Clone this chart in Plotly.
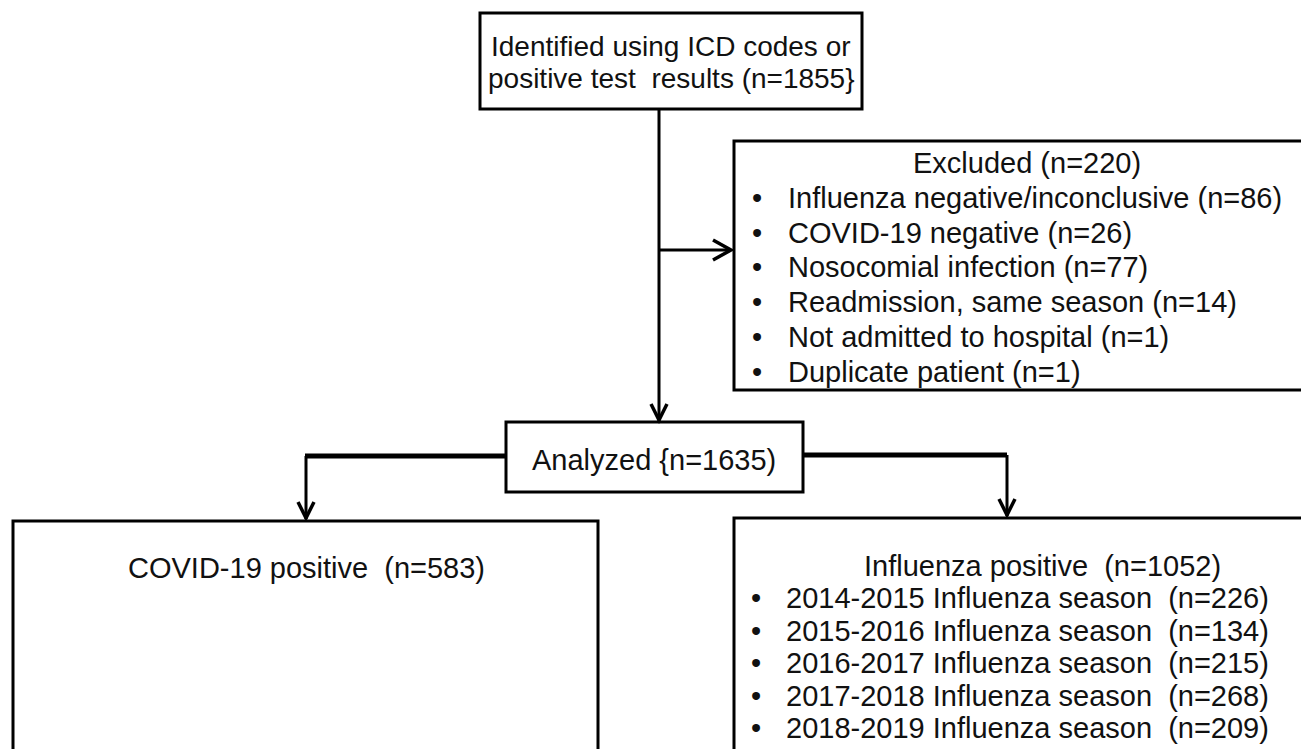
import plotly.graph_objects as go

# ---------------- data ----------------
identified_n = 1855
excluded_n = 220
analyzed_n = 1635
covid_n = 583
flu_n = 1052

excluded_reasons = ["Influenza negative/inconclusive", "COVID-19 negative", "Nosocomial infection",
                    "Readmission, same season", "Not admitted to hospital", "Duplicate patient"]
excluded_counts = [86, 26, 77, 14, 1, 1]

seasons = ["2014-2015", "2015-2016", "2016-2017", "2017-2018", "2018-2019"]
season_counts = [226, 134, 215, 268, 209]

# ---------------- layout geometry (pixels) ----------------
W, H = 1309, 749
OFF = 8  # page body margin compensation
FONT = "Liberation Sans, Arial, sans-serif"
NB = "\u00a0"

fig = go.Figure()
shapes = []
ann = []

def rect(x0, y0, x1, y1, w=3):
    shapes.append(dict(type="rect", xref="x", yref="y", x0=x0, y0=y0, x1=x1, y1=y1,
                       line=dict(color="black", width=w), fillcolor="white", layer="below"))

def line(x0, y0, x1, y1, w=3):
    shapes.append(dict(type="line", xref="x", yref="y", x0=x0, y0=y0, x1=x1, y1=y1,
                       line=dict(color="black", width=w), layer="below"))

def chevron_down(x, y, hw=8, h=16, w=3.5):
    shapes.append(dict(type="path", xref="x", yref="y",
                       path=f"M{x-hw},{y-h} L{x},{y} L{x+hw},{y-h}",
                       line=dict(color="black", width=w)))

def chevron_right(x, y, hh=10, l=18, w=3.5):
    shapes.append(dict(type="path", xref="x", yref="y",
                       path=f"M{x-l},{y-hh} L{x},{y} L{x-l},{y+hh}",
                       line=dict(color="black", width=w)))

def text(x, y, s, size=28, anchor="center"):
    ann.append(dict(x=x, y=y, xref="x", yref="y", text=s, showarrow=False,
                    xanchor=anchor, yanchor="middle",
                    font=dict(family=FONT, size=size, color="#111111")))

# connectors
line(659, 109, 659, 421, 3)
chevron_down(659, 420)
line(659, 250, 731, 250, 3)
chevron_right(731, 250)
line(305, 456, 506, 456, 5)
line(306, 456, 306, 519, 3)
chevron_down(306, 518)
line(803, 455, 1007, 455, 5)
line(1007, 455, 1007, 516, 3)
chevron_down(1007, 515)

# boxes
rect(480, 13, 862, 109)
rect(734, 141, 1320, 390)
rect(506, 422, 803, 492)
rect(13, 521, 598, 770)
rect(734, 518, 1350, 770)

# top box
text(671, 46, "Identified using ICD codes or", 28)
text(671, 78, f"positive test{NB} results (n={identified_n}}}", 28)

# excluded box
ex_y0, ex_dy = 163, 34.8
text(1027, ex_y0, f"Excluded (n={excluded_n})", 29)
for i, (r, c) in enumerate(zip(excluded_reasons, excluded_counts)):
    yy = ex_y0 + ex_dy * (i + 1)
    text(757, yy, "•", 29)
    text(786, yy, f"{r} (n={c})", 29, anchor="left")

# analyzed
text(654, 460, f"Analyzed {{n={analyzed_n})", 29)

# covid box
text(306, 568, f"COVID-19 positive{NB} (n={covid_n})", 29)

# influenza box
fl_y0, fl_dy = 566, 32.4
text(1042, fl_y0, f"Influenza positive{NB} (n={flu_n})", 29)
for i, (s, c) in enumerate(zip(seasons, season_counts)):
    yy = fl_y0 + fl_dy * (i + 1)
    text(756, yy, "•", 29)
    text(784, yy, f"{s} Influenza season{NB} (n={c})", 29, anchor="left")

fig.update_layout(
    width=W, height=H,
    margin=dict(l=0, r=0, t=0, b=0),
    paper_bgcolor="white", plot_bgcolor="white",
    xaxis=dict(range=[OFF, W + OFF], visible=False, fixedrange=True),
    yaxis=dict(range=[H + OFF, OFF], visible=False, fixedrange=True),
    shapes=shapes, annotations=ann, showlegend=False,
)

fig.write_html("out.html", config={"displayModeBar": False})
